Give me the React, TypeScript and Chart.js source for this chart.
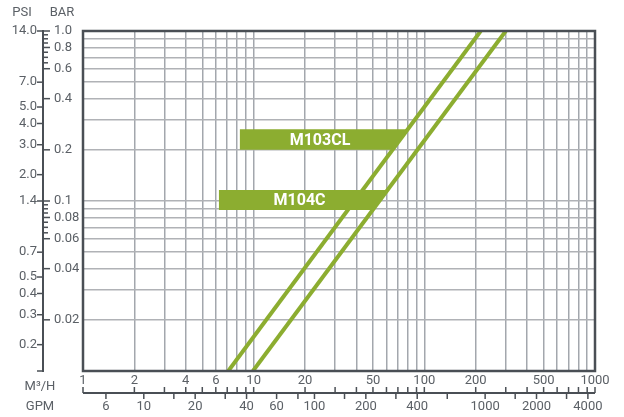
import { useEffect, useRef } from 'react';
import { Chart, registerables } from 'chart.js';

Chart.register(...registerables);

// ---- data ----
const flowRange = [1, 1000]; // m3/h
const barRange = [0.01, 1.0]; // bar
const seriesNames = ['M103CL', 'M104C'];
const m103clFlow = [7.1, 214];
const m103clBar = [0.01, 1.0];
const m104cFlow = [9.9, 300];
const m104cBar = [0.01, 1.0];

const barTickLabels = [1.0, 0.8, 0.6, 0.4, 0.2, 0.1, 0.08, 0.06, 0.04, 0.02];
const barMinorTicks = [0.95, 0.9, 0.85, 0.75, 0.7, 0.65, 0.095, 0.09, 0.085, 0.075, 0.07, 0.065];
const psiTickLabels = ['14.0', '7.0', '5.0', '4.0', '3.0', '2.0', '1.4', '0.7', '0.5', '0.4', '0.3', '0.2'];
const psiPerBar = 14.0;

const m3hTickLabels = [1, 2, 4, 6, 10, 20, 50, 100, 200, 500, 1000];
const m3hTicks = [1, 2, 3, 4, 5, 6, 7, 8, 9, 10, 20, 30, 40, 50, 60, 70, 80, 90, 100, 200, 300, 400, 500, 600, 700, 800, 900, 1000];
const gpmTickLabels = [6, 10, 20, 40, 60, 100, 200, 400, 1000, 2000, 4000];
const gpmTicks = [6, 10, 15, 20, 30, 40, 60, 80, 100, 150, 200, 300, 400, 600, 1000, 1500, 2000, 3000, 4000];
const gpmPerM3h = 4.403;

const flowGrid = [2, 3, 4, 5, 6, 7, 8, 9, 10, 20, 30, 40, 50, 60, 70, 80, 90, 100, 200, 300, 400, 500, 600, 700, 800, 900];
const barGrid = [0.02, 0.03, 0.04, 0.05, 0.06, 0.07, 0.08, 0.09, 0.1, 0.2, 0.3, 0.4, 0.5, 0.6, 0.7, 0.8, 0.9];

// tag boxes (annotation layout, in data units)
const tagLeftFlow = [8.3, 6.26];
const tagTopBar = [0.264, 0.116];
const tagBottomBar = [0.2, 0.0886];

const GREEN = '#8cad30';
const AXIS = '#4a4f55';
const TEXT = '#5b6066';
const FONT = 'Roboto, "DejaVu Sans", sans-serif';

const decorPlugin = {
  id: 'decor',
  afterDatasetsDraw(chart: any) {
    const { ctx, chartArea: ca, scales } = chart;
    const xs = scales.x;
    const ys = scales.y;
    const series = [
      { flow: m103clFlow, bar: m103clBar },
      { flow: m104cFlow, bar: m104cBar },
    ];
    ctx.save();

    // tag boxes
    seriesNames.forEach((name, i) => {
      const s = series[i];
      const x0 = xs.getPixelForValue(s.flow[0]);
      const y0 = ys.getPixelForValue(s.bar[0]);
      const x1 = xs.getPixelForValue(s.flow[1]);
      const y1 = ys.getPixelForValue(s.bar[1]);
      const lineX = (py: number) => x0 + ((py - y0) * (x1 - x0)) / (y1 - y0);
      const left = xs.getPixelForValue(tagLeftFlow[i]);
      const top = ys.getPixelForValue(tagTopBar[i]);
      const bottom = ys.getPixelForValue(tagBottomBar[i]);
      ctx.fillStyle = GREEN;
      ctx.beginPath();
      ctx.moveTo(left, top);
      ctx.lineTo(lineX(top), top);
      ctx.lineTo(lineX(bottom), bottom);
      ctx.lineTo(left, bottom);
      ctx.closePath();
      ctx.fill();
      const mid = (top + bottom) / 2;
      ctx.fillStyle = '#ffffff';
      ctx.font = `bold 16px ${FONT}`;
      ctx.textAlign = 'center';
      ctx.textBaseline = 'middle';
      ctx.fillText(name, (left + lineX(mid)) / 2, mid + 1);
    });

    // plot border
    ctx.strokeStyle = AXIS;
    ctx.lineWidth = 2.5;
    ctx.strokeRect(ca.left, ca.top, ca.right - ca.left, ca.bottom - ca.top);

    // left PSI / BAR axis
    const ax = ca.left - 40;
    ctx.lineWidth = 2;
    ctx.beginPath();
    ctx.moveTo(ax, ca.top - 1);
    ctx.lineTo(ax, ca.bottom + 1);
    ctx.stroke();
    ctx.lineWidth = 1.5;
    ctx.beginPath();
    ctx.moveTo(ax - 6, ca.bottom);
    ctx.lineTo(ax, ca.bottom);
    ctx.stroke();

    ctx.font = `13px ${FONT}`;
    ctx.fillStyle = TEXT;
    ctx.textBaseline = 'middle';

    psiTickLabels.forEach((lab) => {
      const y = ys.getPixelForValue(parseFloat(lab) / psiPerBar);
      ctx.beginPath();
      ctx.moveTo(ax - 6, y);
      ctx.lineTo(ax, y);
      ctx.stroke();
      ctx.textAlign = 'right';
      ctx.fillText(lab, ax - 6, y);
    });
    barTickLabels.forEach((v) => {
      const y = ys.getPixelForValue(v);
      ctx.beginPath();
      ctx.moveTo(ax, y);
      ctx.lineTo(ax + 7, y);
      ctx.stroke();
      ctx.textAlign = 'left';
      const lab = v >= 0.1 ? v.toFixed(1) : String(v);
      ctx.fillText(lab, ax + 11, y);
    });
    barMinorTicks.forEach((v) => {
      const y = ys.getPixelForValue(v);
      ctx.beginPath();
      ctx.moveTo(ax, y);
      ctx.lineTo(ax + 5, y);
      ctx.stroke();
    });

    // titles
    ctx.textAlign = 'center';
    ctx.fillText('PSI', 22, 13);
    ctx.fillText('BAR', 62, 13);

    // bottom double axis
    const by = ca.bottom + 22;
    ctx.lineWidth = 2;
    ctx.beginPath();
    ctx.moveTo(ca.left, by);
    ctx.lineTo(ca.right, by);
    ctx.stroke();
    ctx.lineWidth = 1.5;
    m3hTicks.forEach((v) => {
      const x = xs.getPixelForValue(v);
      ctx.beginPath();
      ctx.moveTo(x, by - 6);
      ctx.lineTo(x, by);
      ctx.stroke();
    });
    gpmTicks.forEach((g) => {
      const x = xs.getPixelForValue(g / gpmPerM3h);
      ctx.beginPath();
      ctx.moveTo(x, by);
      ctx.lineTo(x, by + 6);
      ctx.stroke();
    });
    ctx.textAlign = 'center';
    m3hTickLabels.forEach((v) => {
      ctx.fillText(String(v), xs.getPixelForValue(v), by - 12);
    });
    gpmTickLabels.forEach((g) => {
      ctx.fillText(String(g), xs.getPixelForValue(g / gpmPerM3h), by + 14);
    });
    ctx.fillText('M³/H', 40, by - 6);
    ctx.fillText('GPM', 40, by + 14);

    ctx.restore();
  },
};

export default function App() {
  const ref = useRef<HTMLCanvasElement | null>(null);
  useEffect(() => {
    if (!ref.current) return;
    const mk = (flow: number[], bar: number[]) => flow.map((x, i) => ({ x, y: bar[i] }));
    const chart = new Chart(ref.current, {
      type: 'scatter',
      data: {
        datasets: [
          { label: seriesNames[0], data: mk(m103clFlow, m103clBar), showLine: true, borderColor: GREEN, backgroundColor: GREEN, borderWidth: 4, pointRadius: 0 },
          { label: seriesNames[1], data: mk(m104cFlow, m104cBar), showLine: true, borderColor: GREEN, backgroundColor: GREEN, borderWidth: 4, pointRadius: 0 },
        ],
      },
      options: {
        animation: false,
        responsive: false,
        layout: { padding: { left: 83, right: 29, top: 31, bottom: 46 } },
        plugins: { legend: { display: false }, tooltip: { enabled: false } },
        scales: {
          x: {
            type: 'logarithmic',
            min: flowRange[0],
            max: flowRange[1],
            ticks: { display: false },
            grid: { color: '#a3a7ad', lineWidth: 1.5, drawTicks: false },
            border: { display: false },
            afterBuildTicks: (s: any) => { s.ticks = flowGrid.map((v) => ({ value: v })); },
            afterFit: (s: any) => { s.height = 0; },
          },
          y: {
            type: 'logarithmic',
            min: barRange[0],
            max: barRange[1],
            ticks: { display: false },
            grid: { color: '#b0b2b6', lineWidth: 1.5, drawTicks: false },
            border: { display: false },
            afterBuildTicks: (s: any) => { s.ticks = barGrid.map((v) => ({ value: v })); },
            afterFit: (s: any) => { s.width = 0; },
          },
        },
      },
      plugins: [decorPlugin],
    } as any);
    return () => chart.destroy();
  }, []);
  return (
    <div style={{ position: 'fixed', left: 0, top: 0, width: 624, height: 417, background: '#fff' }}>
      <canvas ref={ref} width={624} height={417} style={{ width: 624, height: 417 }} />
    </div>
  );
}
